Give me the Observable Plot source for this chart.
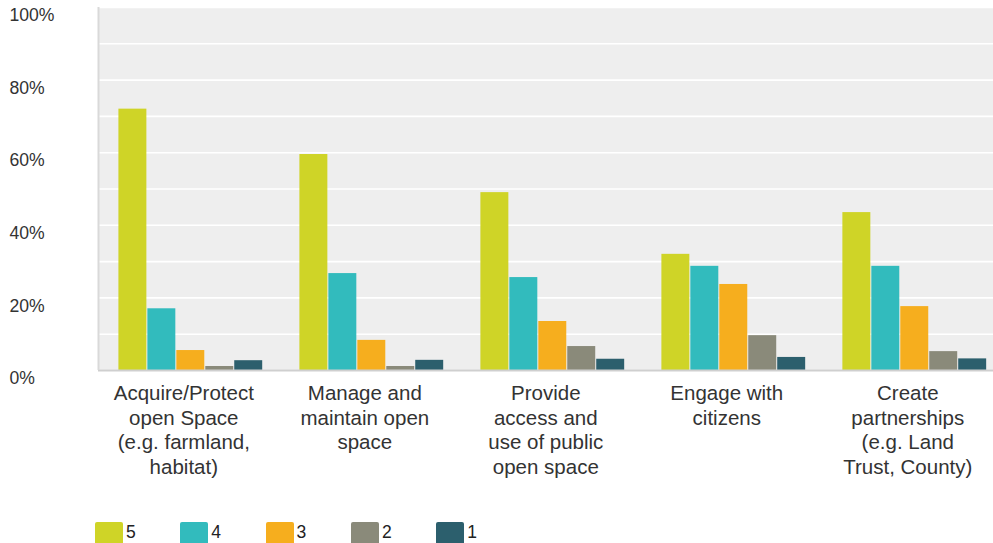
<!DOCTYPE html>
<html>
<head>
<meta charset="utf-8">
<script src="https://cdn.jsdelivr.net/npm/d3@7"></script>
<script src="https://cdn.jsdelivr.net/npm/@observablehq/plot@0.6"></script>
<style>
  body { margin: 0; background: #fff; font-family: "Liberation Sans", Arial, sans-serif; }
  #legend { display: flex; padding-left: 95px; margin-top: 7px; }
  .item { display: flex; align-items: flex-start; width: 85.3px; font-size: 17.5px; color: #222; }
  .sw { width: 28px; height: 24px; border-radius: 2px; margin-right: 3px; }
</style>
</head>
<body>
<div id="chart"></div>
<div id="legend"></div>
<script>
const categories = [
  "Acquire/Protect\nopen Space\n(e.g. farmland,\nhabitat)",
  "Manage and\nmaintain open\nspace",
  "Provide\naccess and\nuse of public\nopen space",
  "Engage with\ncitizens",
  "Create\npartnerships\n(e.g. Land\nTrust, County)"
];
const ratings = ["5", "4", "3", "2", "1"];
const values5 = [72, 59.5, 49, 32, 43.5];
const values4 = [17, 26.7, 25.6, 28.7, 28.7];
const values3 = [5.5, 8.3, 13.5, 23.7, 17.6];
const values2 = [1.1, 1.1, 6.6, 9.6, 5.2];
const values1 = [2.7, 2.8, 3.1, 3.6, 3.2];
const yTicks = [0, 20, 40, 60, 80, 100];
const colors = ["#cfd427", "#32bbbd", "#f6ae1e", "#8a8a7a", "#2c5f6d"];

const series = [values5, values4, values3, values2, values1];
const groupWidth = 0.8;
const barW = groupWidth / ratings.length;
const rows = [];
categories.forEach((c, i) => {
  ratings.forEach((r, j) => {
    const x1 = i - groupWidth / 2 + j * barW;
    rows.push({category: c, rating: r, x1, x2: x1 + barW, value: series[j][i]});
  });
});
const xDomain = [-0.51, categories.length - 0.565];

const plot = Plot.plot({
  width: 993,
  height: 515,
  marginLeft: 98,
  marginRight: 0,
  marginTop: 7,
  marginBottom: 145,
  style: {fontFamily: "Liberation Sans, Arial, sans-serif", fontSize: "17px", color: "#333", background: "white"},
  x: {type: "linear", domain: xDomain},
  y: {domain: [0, 100]},
  color: {domain: ratings, range: colors},
  marks: [
    Plot.frame({fill: "#eeeeee", stroke: null}),
    Plot.gridY({ticks: 10, stroke: "white", strokeOpacity: 1, strokeWidth: 1.6}),
    Plot.rectY(rows, {x1: "x1", x2: "x2", y: "value", fill: "rating", insetLeft: 0.5, insetRight: 0.5}),
    Plot.ruleY([0], {stroke: "#cfcfcf", strokeWidth: 2}),
    Plot.ruleX([xDomain[0]], {stroke: "#d9d9d9", strokeWidth: 2}),
    Plot.axisY({ticks: yTicks, tickFormat: d => d + "%", tickSize: 0, textAnchor: "start", dx: -80, dy: 8, fontSize: 17.6, fill: "#333", label: null}),
    Plot.axisX({ticks: d3.range(categories.length), tickFormat: i => categories[i], tickSize: 0, tickPadding: 12, dx: -7, lineHeight: 1.2, fontSize: 20.5, fill: "#333", label: null})
  ]
});
document.getElementById("chart").appendChild(plot);

const legend = document.getElementById("legend");
ratings.forEach((r, j) => {
  const it = document.createElement("div");
  it.className = "item";
  const sw = document.createElement("div");
  sw.className = "sw";
  sw.style.background = colors[j];
  const t = document.createElement("span");
  t.textContent = r;
  it.appendChild(sw); it.appendChild(t);
  legend.appendChild(it);
});
</script>
</body>
</html>
